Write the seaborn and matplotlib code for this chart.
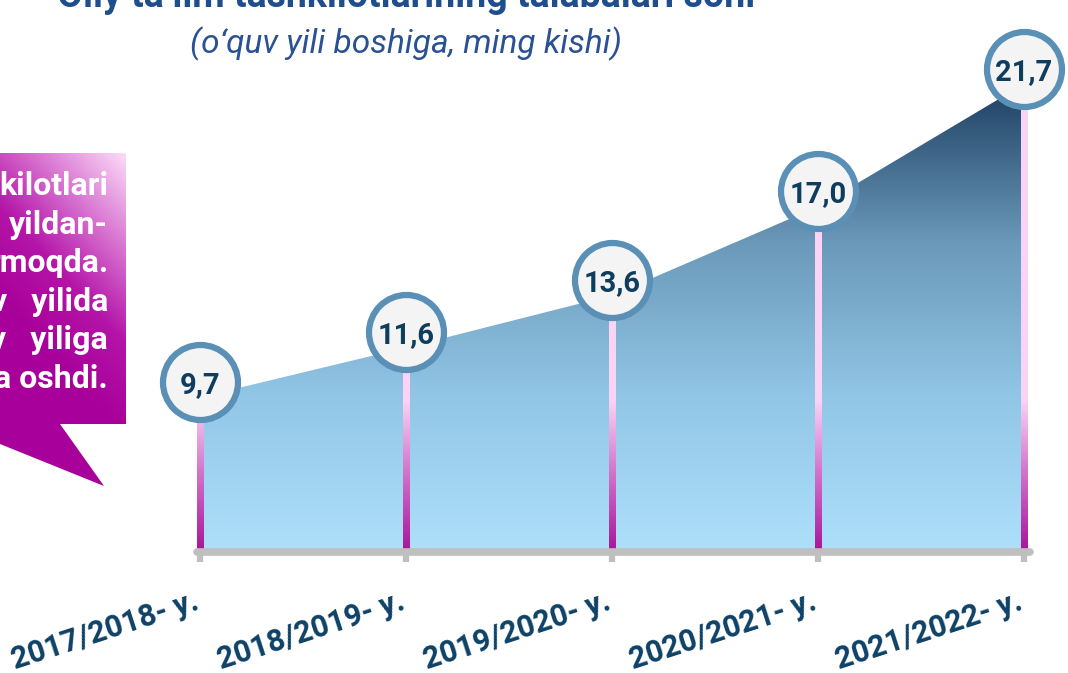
import numpy as np
import pandas as pd
import seaborn as sns
import matplotlib.pyplot as plt
from matplotlib.colors import LinearSegmentedColormap
from matplotlib.patches import Polygon
from matplotlib.transforms import offset_copy

# data
years = ["2017/2018- y.", "2018/2019- y.", "2019/2020- y.", "2020/2021- y.", "2021/2022- y."]
students = [9.7, 11.6, 13.6, 17.0, 21.7]
value_labels = ["9,7", "11,6", "13,6", "17,0", "21,7"]

title = "Oliy ta’lim tashkilotlarining talabalari soni"
subtitle = "(o‘quv yili boshiga, ming kishi)"
callout_lines = ["kilotlari", "yildan-", "rmoqda.", "v   yilida", "v   yiliga", "a oshdi."]

NAVY = "#0E3D5E"
YMIN, YMAX = 3.77, 24.92

sns.set_theme(style="white")
plt.rcParams['font.family'] = ['Roboto', 'DejaVu Sans']

fig = plt.figure(figsize=(10.68, 6.73), dpi=100)
ax = fig.add_axes([0, 121 / 673, 1, 552 / 673])

x = np.arange(len(students))
df = pd.DataFrame({"idx": x, "val": students})

# area with vertical gradient
area_cmap = LinearSegmentedColormap.from_list("area", ["#AEE0FB", "#92C6E6", "#6A98B8", "#1D3F62"])
verts = [(0, YMIN)] + list(zip(x, students)) + [(x[-1], YMIN)]
area = Polygon(verts, closed=True, fc="none", ec="none")
ax.add_patch(area)
grad = np.linspace(0, 1, 256).reshape(-1, 1)
img = ax.imshow(grad, extent=[0, x[-1], YMIN, max(students)], origin="lower",
                aspect="auto", cmap=area_cmap, zorder=1)
img.set_clip_path(area)

# pink stems
ys = np.linspace(YMIN, YMAX, 300)
stem_t = np.clip((ys - YMIN) / (9.6 - YMIN), 0, 1).reshape(-1, 1)
stem_cmap = LinearSegmentedColormap.from_list("stem", ["#A8159B", "#D070C8", "#FAD4F6"])
for i, v in zip(x, students):
    n = int(len(ys) * (v - YMIN) / (YMAX - YMIN))
    ax.imshow(stem_t[:n], extent=[i - 0.015, i + 0.015, YMIN, ys[n - 1]], origin="lower",
              aspect="auto", cmap=stem_cmap, vmin=0, vmax=1, zorder=2)

# baseline and ticks
ax.axhline(YMIN, xmin=197 / 1068, xmax=1030 / 1068, color="#BFBFBF", lw=5.5,
           clip_on=False, zorder=4)

# circles
sns.scatterplot(data=df, x="idx", y="val", s=54 ** 2, color="#F4F4F4",
                edgecolor="#5A8FB6", linewidth=4.5, ax=ax, zorder=5, legend=False)
circles = ax.collections[-1]
circles.set_offset_transform(offset_copy(ax.transData, fig=fig, y=11, units="points"))
circles.set_clip_on(False)

for i, v, lab in zip(x, students, value_labels):
    ax.annotate(lab, (i, v), xytext=(0, 11), textcoords="offset points",
                ha="center", va="center_baseline", fontsize=21, fontweight="bold",
                color=NAVY, zorder=6)

ax.set_xlim(-200 / 206, 868 / 206)
ax.set_ylim(YMIN, YMAX)
ax.set(xlabel="", ylabel="")
ax.set_yticks([])
ax.set_xticks(x, years)
ax.tick_params(axis="x", bottom=True, length=7, width=4.5, color="#BFBFBF", pad=34)
for lab in ax.get_xticklabels():
    lab.set(rotation=18, ha="right", va="baseline", rotation_mode="anchor",
            fontsize=22, fontweight="bold", color="#0D4166")
sns.despine(ax=ax, left=True, bottom=True)

# overlay in pixel coords for title and callout
ov = fig.add_axes([0, 0, 1, 1], zorder=10)
ov.axis("off")
ov.patch.set_alpha(0)

ov.text(406, 7, title, ha="center", va="baseline", fontsize=27,
        fontweight="bold", color="#1F4E8C")
ov.text(406, 53, subtitle, ha="center", va="baseline", fontsize=24,
        fontstyle="italic", color="#2A5193")

bx = np.linspace(0, 126, 120)
by = np.linspace(153, 487, 300)
XX, YY = np.meshgrid(bx / 126, (by - 153) / (425 - 153))
s = np.clip((0.5 * XX + (1 - YY) - 0.45) / 1.05, 0, 1)
box_cmap = LinearSegmentedColormap.from_list("box", ["#A8009A", "#B414A8", "#D977D2", "#FCDCF8"])
box = Polygon([(0, 153), (126, 153), (126, 424), (60, 424), (104, 486), (0, 444)],
              closed=True, fc="none", ec="none")
ov.add_patch(box)
bimg = ov.imshow(s, extent=[0, 126, 487, 153], origin="upper", aspect="auto", cmap=box_cmap)
bimg.set_clip_path(box)
ov.set_xlim(0, 1068)
ov.set_ylim(673, 0)

for k, line in enumerate(callout_lines):
    ov.text(108, 195 + 38.6 * k, line, ha="right", va="baseline", fontsize=23,
            fontweight="bold", color="white")

plt.savefig("out.png", dpi=100)
